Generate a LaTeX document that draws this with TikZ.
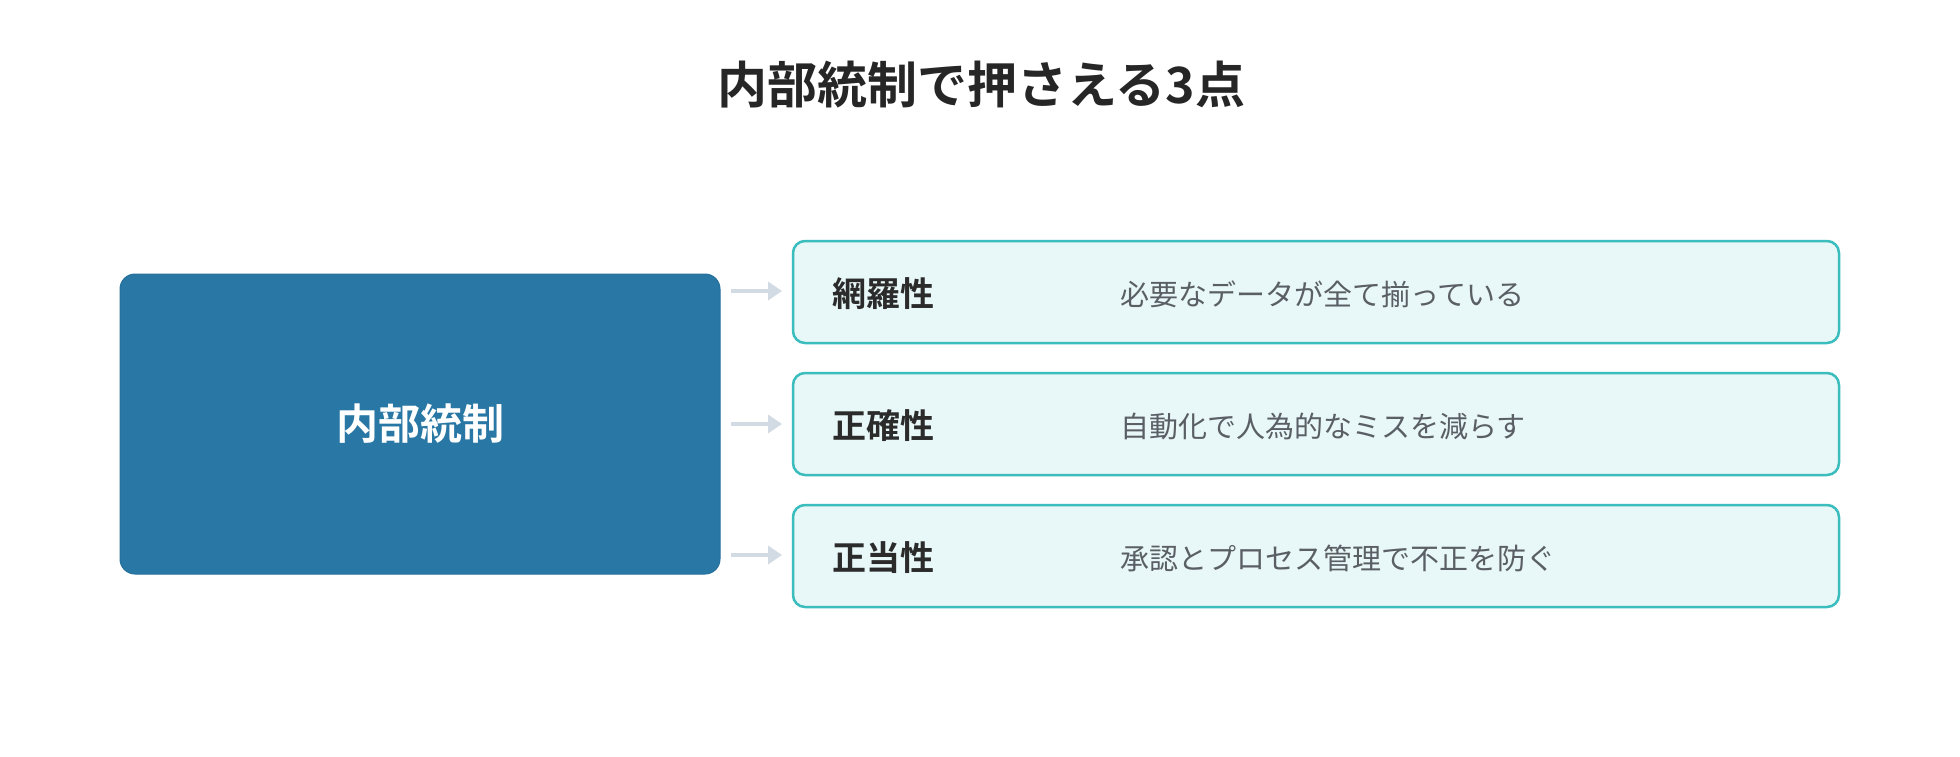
\documentclass[tikz,border=0pt]{standalone}
\usepackage{fontspec}
\setmainfont{Noto Sans CJK JP}
\newfontfamily\jpbold{Noto Sans CJK JP Bold}
\usetikzlibrary{arrows.meta}
\definecolor{mainblue}{HTML}{2977A5}
\definecolor{mainedge}{HTML}{26709C}
\definecolor{itemfill}{HTML}{E8F7F7}
\definecolor{itemedge}{HTML}{3BBDBD}
\definecolor{arrowgray}{HTML}{D2DAE3}
\definecolor{titlecol}{HTML}{262626}
\definecolor{labelcol}{HTML}{2B2B2B}
\definecolor{desccol}{HTML}{5A5F66}
\tikzset{
  mainbox/.style={draw=mainedge, line width=1pt, fill=mainblue, rounded corners=15pt, minimum width=600pt, minimum height=300pt, inner sep=0pt},
  itembox/.style={draw=itemedge, line width=2.5pt, fill=itemfill, rounded corners=12pt, minimum width=1046pt, minimum height=102pt, inner sep=0pt},
  itemlabel/.style={anchor=west, inner sep=0pt, text=labelcol, font=\jpbold\fontsize{34}{40}\selectfont},
  itemdesc/.style={anchor=west, inner sep=0pt, text=desccol, font=\fontsize{29}{34}\selectfont},
  conn/.style={draw=arrowgray, line width=3.5pt, -{Triangle[length=14pt,width=18pt]}}
}
\begin{document}
\begin{tikzpicture}[x=1pt,y=-1pt]
\useasboundingbox (0,0) rectangle (1960,756);
\fill[white] (0,0) rectangle (1960,756);
\node[inner sep=0pt, text=titlecol, font=\jpbold\fontsize{50}{58}\selectfont] (title) at (981,85) {内部統制で押さえる3点};
\node[mainbox] (main) at (420,424) {};
\node[text=white, inner sep=0pt, font=\jpbold\fontsize{42}{48}\selectfont] (mainlabel) at (main.center) {内部統制};
\node[itembox] (b1) at (1316,292) {};
\node[itembox] (b2) at (1316,424) {};
\node[itembox] (b3) at (1316,556) {};
\node[itemlabel] (l1) at (832,294) {網羅性};
\node[itemlabel] (l2) at (832,426) {正確性};
\node[itemlabel] (l3) at (832,558) {正当性};
\node[itemdesc] (d1) at (1120,294) {必要なデータが全て揃っている};
\node[itemdesc] (d2) at (1120,426) {自動化で人為的なミスを減らす};
\node[itemdesc] (d3) at (1120,558) {承認とプロセス管理で不正を防ぐ};
\coordinate (s1) at (731,291);
\coordinate (s2) at (731,424);
\coordinate (s3) at (731,555);
\coordinate (e1) at (782,291);
\coordinate (e2) at (782,424);
\coordinate (e3) at (782,555);
\draw[conn] (s1) -- (e1);
\draw[conn] (s2) -- (e2);
\draw[conn] (s3) -- (e3);
\end{tikzpicture}
\end{document}
